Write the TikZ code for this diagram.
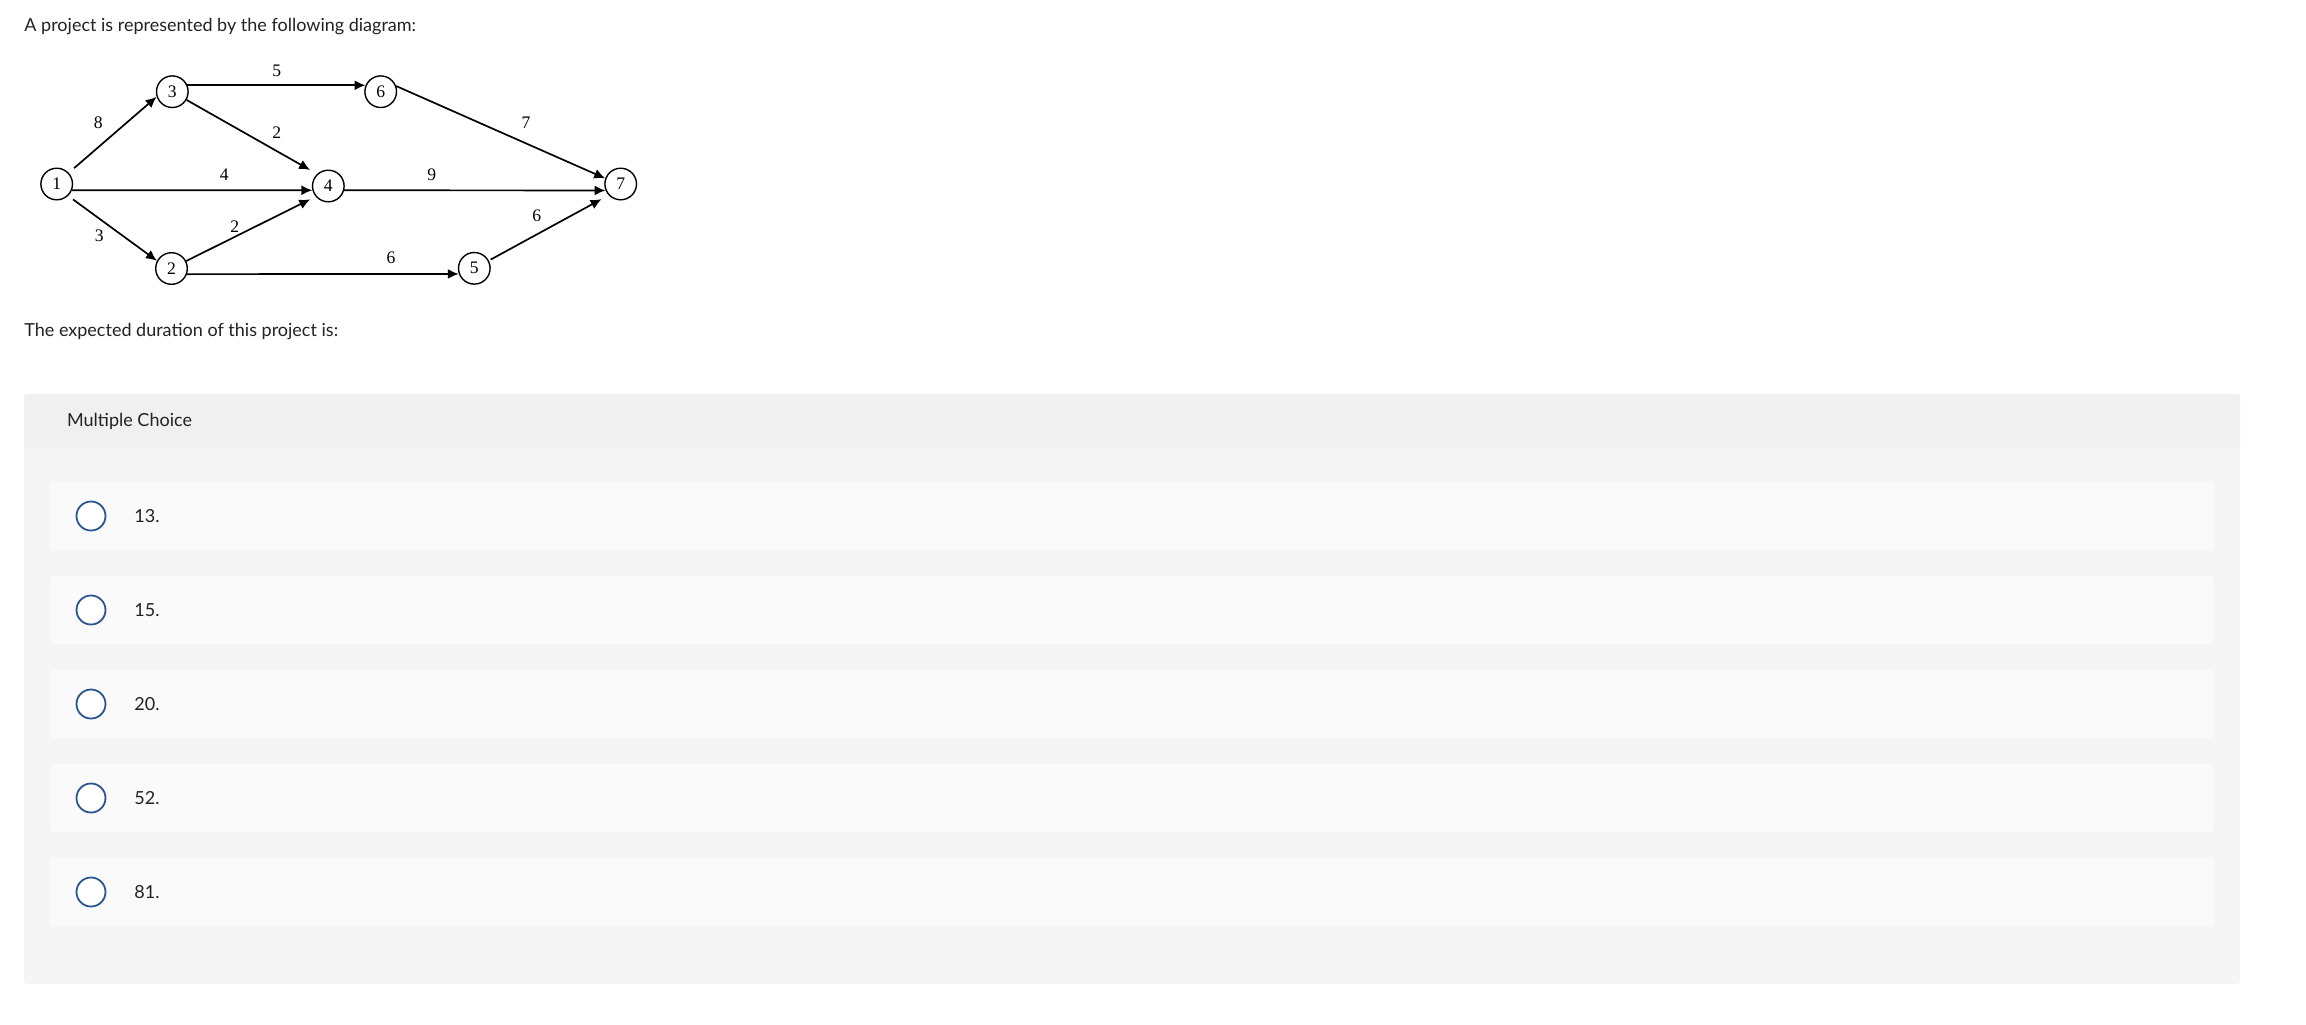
\documentclass[tikz,border=0pt]{standalone}
\usepackage{fontspec}
\setmainfont{Liberation Serif}
\newfontfamily\uifont{Lato}
\usetikzlibrary{arrows.meta}
\definecolor{txt}{HTML}{222222}
\definecolor{headgray}{HTML}{F0F0F0}
\definecolor{panelgray}{HTML}{F5F5F5}
\definecolor{optgray}{HTML}{FAFAFA}
\definecolor{radioblue}{HTML}{2B5590}

\tikzstyle{event}=[draw, circle, line width=0.7pt, minimum size=15.8pt, inner sep=0pt, font=\fontsize{8.8}{10}\selectfont]
\tikzstyle{dur}=[inner sep=0pt, font=\fontsize{8.8}{10}\selectfont]
\tikzstyle{act}=[line width=0.85pt, -{Latex[length=5.5pt,width=5pt]}]
\tikzstyle{ui}=[inner sep=0pt, anchor=base west, text=txt, font=\uifont\fontsize{9}{11}\selectfont]
\tikzstyle{radio}=[draw=radioblue, line width=0.9pt, fill=white]

\begin{document}
\begin{tikzpicture}[x=0.5pt,y=-0.5pt]
\useasboundingbox (0,0) rectangle (2306,1024);
\draw (24,31) node[ui](question){A project is represented by the following diagram:};
%
\draw (56.7,184) node[event](n1){1};
\draw (172.3,91.7) node[event](n3){3};
\draw (171.5,268.5) node[event](n2){2};
\draw (328.3,186) node[event](n4){4};
\draw (380.7,91.7) node[event](n6){6};
\draw (474.3,268.3) node[event](n5){5};
\draw (620.7,184) node[event](n7){7};
%
\draw[act, shorten <=3.5pt] (n1.43) -- (n3.-162);
\draw[act, shorten <=3pt] (n1.-46) -- (n2.152);
\draw[act] (n1.-22) -- (n4.-165);
\draw[act] (n3.23) -- (n6.157);
\draw[act, shorten >=4pt] (n3.-30) -- (n4.133);
\draw[act, shorten >=3pt] (n2.27) -- (n4.-140);
\draw[act] (n2.-20) -- (n5.-160);
\draw[act] (n6.20) -- (n7.160);
\draw[act] (n4.-15) -- (n7.-157);
\draw[act, shorten <=1pt, shorten >=4pt] (n5.28) -- (n7.-137);
%
\draw (98.3,122.3) node[dur](d13){8};
\draw (99.3,236) node[dur](d12){3};
\draw (224.3,174.3) node[dur](d14){4};
\draw (276.7,70.7) node[dur](d36){5};
\draw (276.7,132.7) node[dur](d34){2};
\draw (234.8,226.7) node[dur](d24){2};
\draw (391,257.7) node[dur](d25){6};
\draw (526,122.7) node[dur](d67){7};
\draw (431.7,175) node[dur](d47){9};
\draw (536.7,215.7) node[dur](d57){6};
%
\draw (24,336.7) node[ui](ask){The expected duration of this project is:};
%
\fill[panelgray, rounded corners=1.5pt] (24,394) rectangle (2240,984);
\fill[headgray, rounded corners=1.5pt] (24,394) rectangle (2240,447.7);
\draw (66.7,426.7) node[ui](mc){Multiple Choice};
%
\foreach \y/\v [count=\i] in {516/13., 610/15., 704/20., 798/52., 892/81.} {
  \fill[optgray, rounded corners=1.5pt] (50,\y-34) rectangle (2214,\y+34);
  \draw[radio] (91,\y) circle (14.5);
  \draw (134,\y+6.3) node[ui](opt\i){\v};
}
\end{tikzpicture}
\end{document}
